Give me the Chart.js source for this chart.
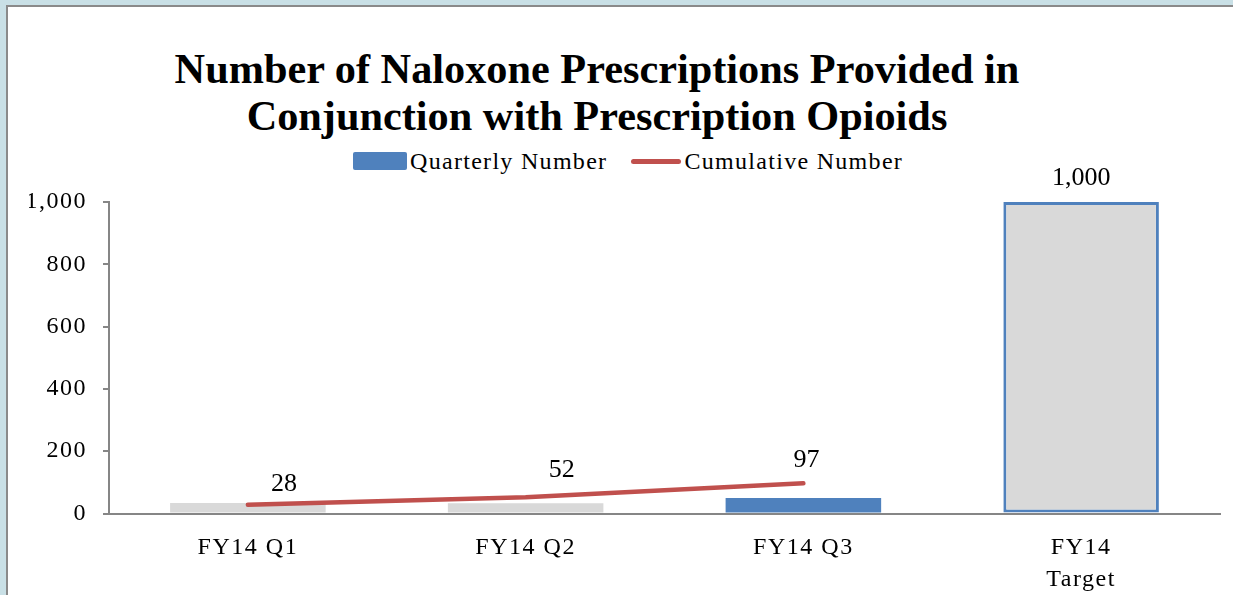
<!DOCTYPE html>
<html>
<head>
<meta charset="utf-8">
<script src="https://cdn.jsdelivr.net/npm/chart.js@4"></script>
<style>
    html, body { margin: 0; padding: 0; width: 1233px; height: 595px; overflow: hidden; background: #c9e0e6; }
    .panel { position: absolute; left: 6px; top: 5px; width: 1300px; height: 700px; background: #fff; border-left: 2px solid #8a8a8a; border-top: 2px solid #8a8a8a; }
    #title { position: absolute; left: 0; top: 45px; width: 1194px; text-align: center; font: bold 42.3px 'Liberation Serif', serif; line-height: 47px; color: #000; }
    #legend { position: absolute; top: 150px; left: 353px; height: 22px; display: flex; align-items: center; font: 24px 'Liberation Serif', serif; color: #000; }
    #legend .item { display: flex; align-items: center; letter-spacing: 1.3px; white-space: nowrap; }
    #legend .swatch { margin-right: 3px; }
    canvas { position: absolute; left: 0; top: 0; }
</style>
</head>
<body>
<div class="panel"></div>
<div id="title">Number of Naloxone Prescriptions Provided in<br>Conjunction with Prescription Opioids</div>
<div id="legend"></div>
<canvas id="naloxoneChart" width="1233" height="595"></canvas>
<script>
    // Data
    const categories = ['FY14 Q1', 'FY14 Q2', 'FY14 Q3', ['FY14', 'Target']];
    const quarterlyNumber = [34, 33, 50, 1000];
    const cumulativeNumber = [28, 52, 97, null];
    const yTicks = [0, 200, 400, 600, 800, 1000];

    const BLUE = '#4f81bd';
    const RED = '#c0504d';
    const GREY = '#d9d9d9';
    const AXIS = '#868686';
    const SERIF = "'Liberation Serif', 'Times New Roman', serif";

    // label nudges (Excel places them a bit off the point)
    const lineLabelDx = [36, 36, 3];
    const lineLabelDy = [-21, -27, -23];

    const fmt = v => v.toLocaleString('en-US');

    // the axis text in the original is a little spread out
    const spacedText = {
        id: 'spacedText',
        beforeDraw(chart) { chart.ctx.letterSpacing = '1.5px'; },
        afterDraw(chart) { chart.ctx.letterSpacing = '0px'; }
    };

    // Value labels on the line and on the target bar
    const valueLabels = {
        id: 'valueLabels',
        afterDatasetsDraw(chart) {
            const ctx = chart.ctx;
            ctx.save();
            ctx.letterSpacing = '0px';
            ctx.fillStyle = '#000';
            ctx.font = `26px ${SERIF}`;
            ctx.textAlign = 'center';
            ctx.textBaseline = 'middle';

            const lineMeta = chart.getDatasetMeta(0);
            lineMeta.data.forEach((pt, i) => {
                const v = cumulativeNumber[i];
                if (v === null || v === undefined) return;
                ctx.fillText(fmt(v), pt.x + lineLabelDx[i], pt.y + lineLabelDy[i]);
            });

            const barMeta = chart.getDatasetMeta(1);
            const last = quarterlyNumber.length - 1;
            const bar = barMeta.data[last];
            ctx.fillText(fmt(quarterlyNumber[last]), bar.x, bar.y - 24);
            ctx.restore();
        }
    };

    const ctx = document.getElementById('naloxoneChart');
    const chart = new Chart(ctx, {
        data: {
            labels: categories,
            datasets: [{
                type: 'line',
                label: 'Cumulative Number',
                data: cumulativeNumber,
                borderColor: RED,
                backgroundColor: RED,
                borderWidth: 4.5,
                borderCapStyle: 'round',
                pointRadius: 0,
                tension: 0,
                spanGaps: false,
                order: 0
            }, {
                type: 'bar',
                label: 'Quarterly Number',
                data: quarterlyNumber,
                backgroundColor: [GREY, GREY, BLUE, GREY],
                borderColor: [GREY, GREY, BLUE, BLUE],
                borderWidth: [0, 0, 0, 3],
                borderSkipped: false,
                categoryPercentage: 1,
                barPercentage: 0.56,
                order: 1
            }]
        },
        options: {
            responsive: false,
            animation: false,
            layout: { padding: { left: 29, right: 13, top: 202, bottom: 0 } },
            scales: {
                x: {
                    grid: { display: false, drawTicks: false },
                    border: { display: true, color: AXIS, width: 2 },
                    ticks: { color: '#000', padding: 18, font: { family: SERIF, size: 24, lineHeight: 1.33 } },
                    afterFit: s => { s.height = 81.5; }
                },
                y: {
                    min: 0,
                    max: 1000,
                    afterBuildTicks: s => { s.ticks = yTicks.map(v => ({ value: v })); },
                    grid: { drawOnChartArea: false, drawTicks: true, tickLength: 6, color: AXIS, lineWidth: 2 },
                    border: { display: true, color: AXIS, width: 2 },
                    ticks: {
                        color: '#000',
                        padding: 16,
                        font: { family: SERIF, size: 24 },
                        callback: v => fmt(v)
                    },
                    afterFit: s => { s.width = 80; }
                }
            },
            plugins: {
                legend: { display: false },
                title: { display: false },
                tooltip: { enabled: false }
            }
        },
        plugins: [spacedText, valueLabels]
    });

    // HTML legend built from the datasets (bar first, like the original)
    const legend = document.getElementById('legend');
    legend.innerHTML = [chart.data.datasets[1], chart.data.datasets[0]].map(ds => {
        const swatch = ds.type === 'bar'
            ? `<span class="swatch" style="display:inline-block;width:54px;height:18px;background:${BLUE};border-radius:2px;"></span>`
            : `<span class="swatch" style="display:inline-block;width:50px;height:5px;background:${ds.borderColor};border-radius:3px;margin-left:24px;"></span>`;
        return `<span class="item">${swatch}${ds.label}</span>`;
    }).join('');
</script>
</body>
</html>
